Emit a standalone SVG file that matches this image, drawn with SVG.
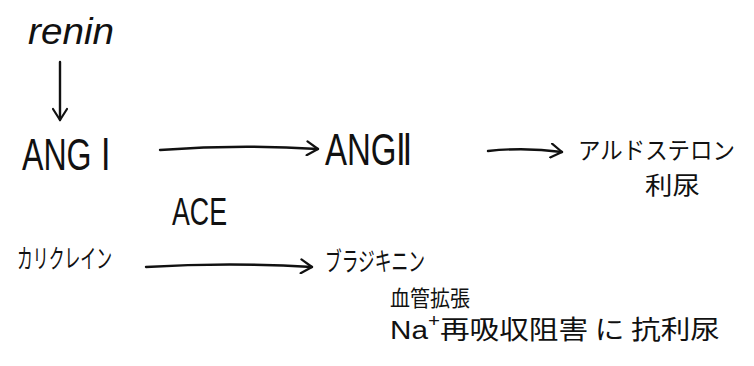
<svg xmlns="http://www.w3.org/2000/svg" width="754" height="366" viewBox="0 0 754 366">
<style>
.lat{font-family:"Liberation Sans",Arial,sans-serif;fill:#111;}
.jp{font-family:"Noto Sans CJK JP","Noto Sans",sans-serif;fill:#111;font-weight:400;}
.edge{stroke:#111;stroke-width:2.4;fill:none;stroke-linecap:round;marker-end:url(#ah);}
</style>
<defs>
<marker id="ah" markerUnits="userSpaceOnUse" markerWidth="16" markerHeight="16" refX="13" refY="8" orient="auto">
<path d="M2,1 L13,8 L2,15" fill="none" stroke="#111" stroke-width="2.2" stroke-linecap="round" stroke-linejoin="round"/>
</marker>
</defs>
<rect width="754" height="366" fill="#fff"/>
<g id="connectors">
<path class="edge" d="M60,62 L60,120"/>
<path class="edge" d="M160,150 Q240,144 318,149"/>
<path class="edge" d="M488,151 Q525,147 562,152"/>
<path class="edge" d="M146,267 Q230,262 312,267"/>
</g>
<g id="renin"><text class="lat" x="28" y="44" font-size="36" font-style="italic" textLength="86" lengthAdjust="spacingAndGlyphs">renin</text></g>
<g id="ang1"><text class="lat" x="22" y="170" font-size="44" textLength="88" lengthAdjust="spacingAndGlyphs">ANG Ⅰ</text></g>
<g id="ang2"><text class="lat" x="325" y="165" font-size="44" textLength="88" lengthAdjust="spacingAndGlyphs">ANGⅡ</text></g>
<g id="ace"><text class="lat" x="172" y="225" font-size="38" textLength="55" lengthAdjust="spacingAndGlyphs">ACE</text></g>
<g id="aldosterone">
<text class="jp" x="578" y="159" font-size="24" textLength="157" lengthAdjust="spacingAndGlyphs">アルドステロン</text>
<text class="jp" x="645" y="194" font-size="24" textLength="55" lengthAdjust="spacingAndGlyphs">利尿</text>
</g>
<g id="kallikrein"><text class="jp" x="17" y="268" font-size="26" textLength="95" lengthAdjust="spacingAndGlyphs">カリクレイン</text></g>
<g id="bradykinin">
<text class="jp" x="325" y="271" font-size="26" textLength="100" lengthAdjust="spacingAndGlyphs">ブラジキニン</text>
<text class="jp" x="390" y="306" font-size="22" textLength="80" lengthAdjust="spacingAndGlyphs">血管拡張</text>
<text class="jp" x="390" y="339" font-size="26" textLength="330" lengthAdjust="spacingAndGlyphs"><tspan class="lat">Na</tspan><tspan class="lat" font-size="18" dy="-12">+</tspan><tspan dy="12">再吸収阻害 に 抗利尿</tspan></text>
</g>
</svg>
